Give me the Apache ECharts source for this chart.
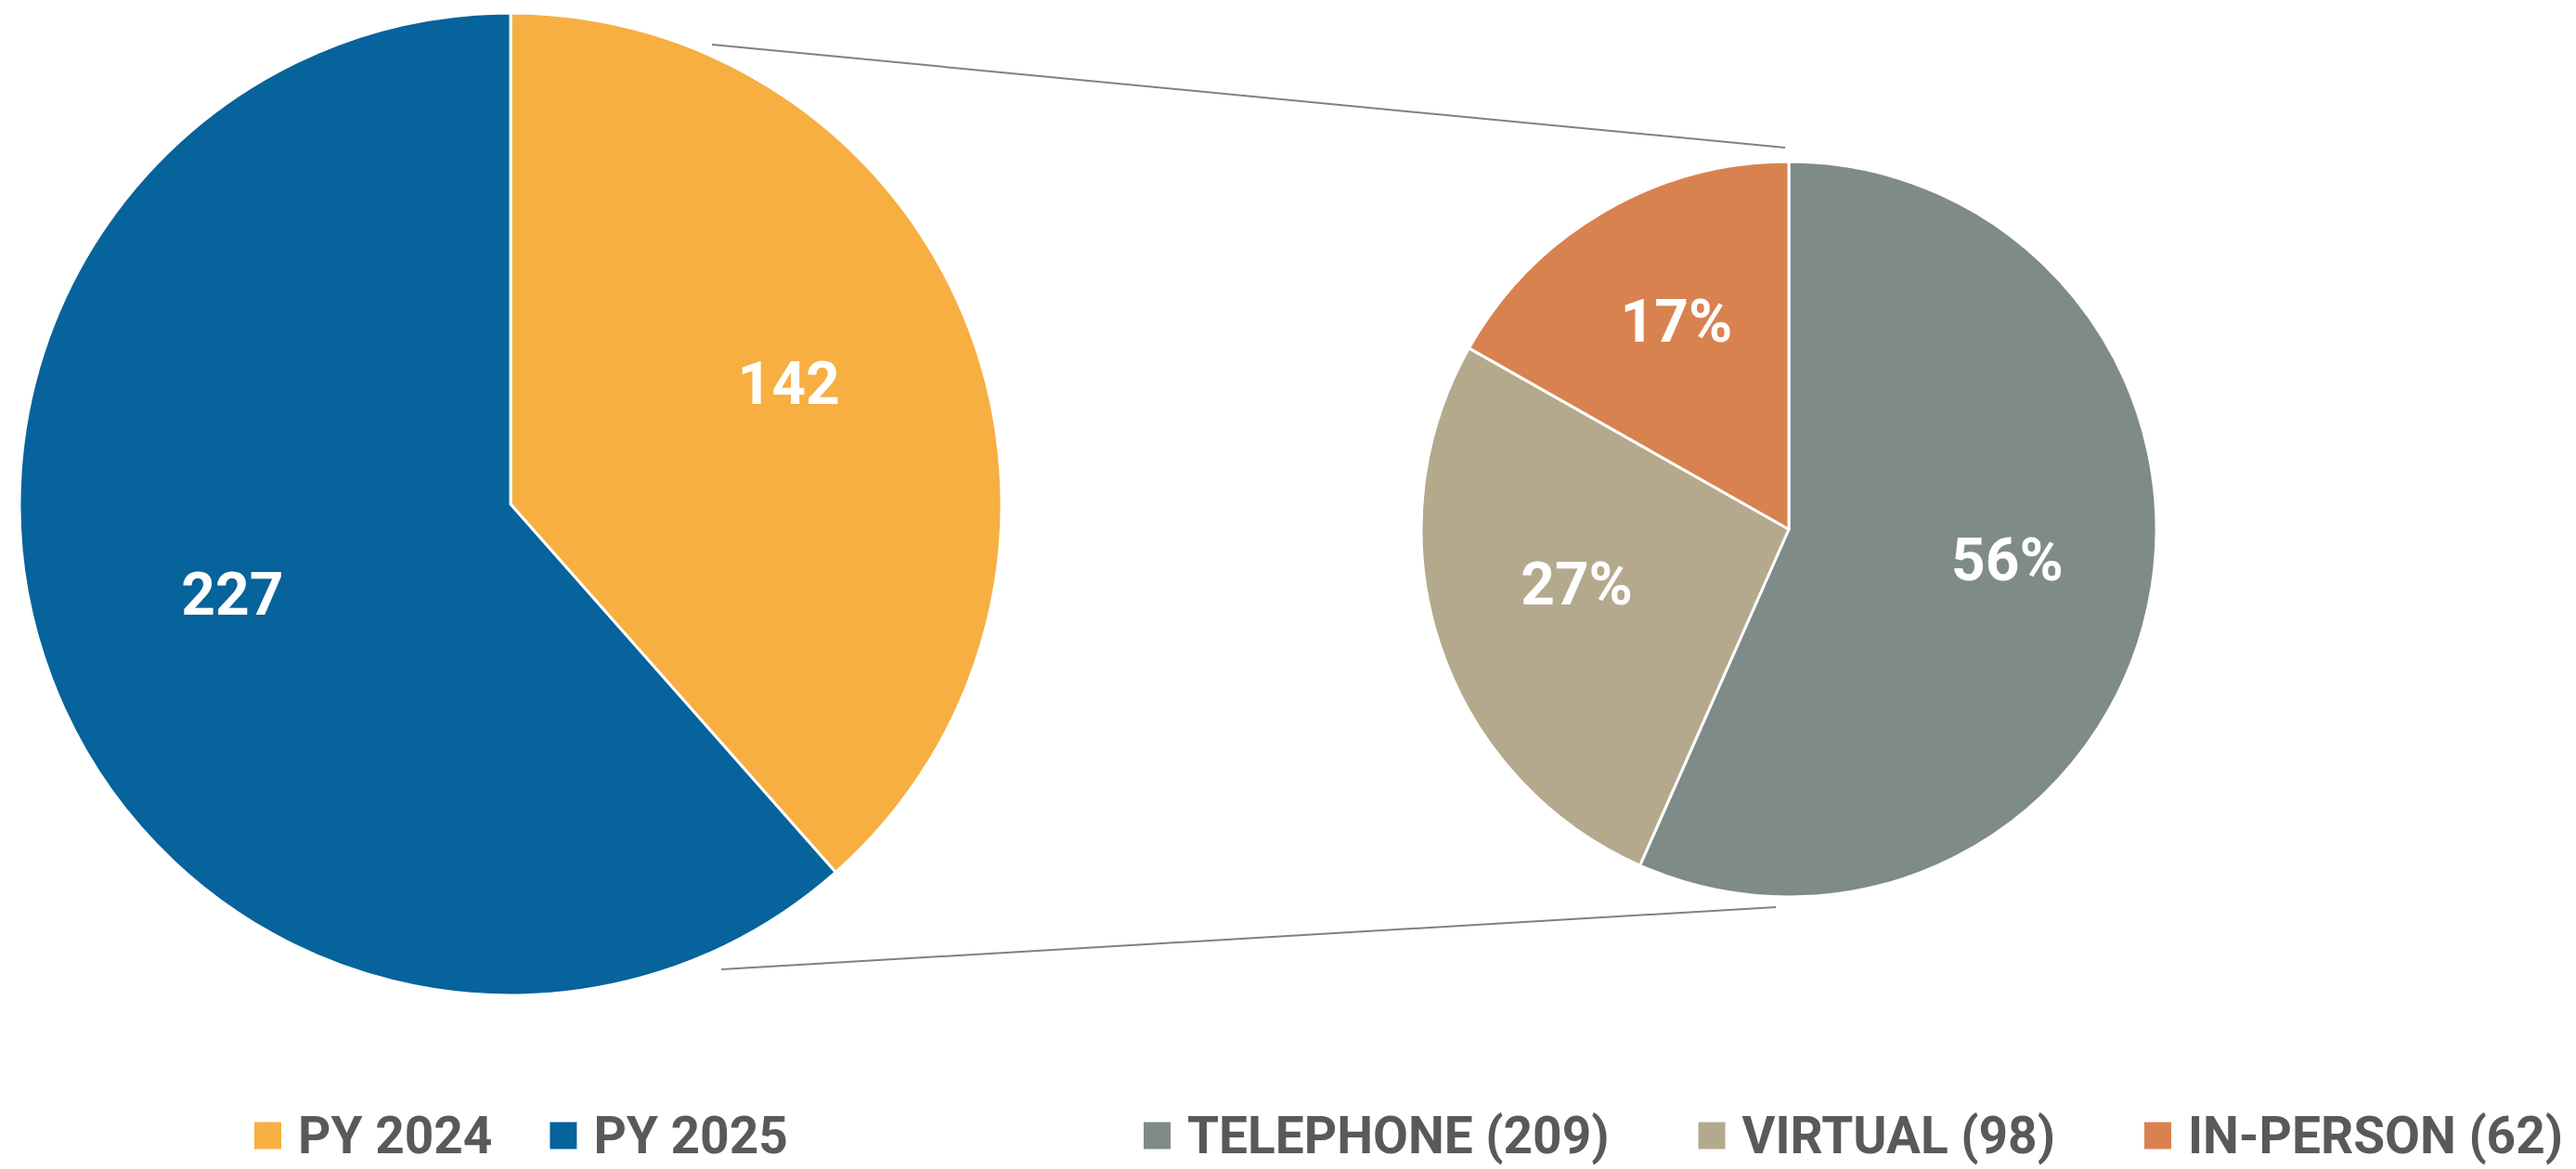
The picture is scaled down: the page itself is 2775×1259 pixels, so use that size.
<!DOCTYPE html>
<html>
<head>
<meta charset="utf-8">
<script src="https://cdn.jsdelivr.net/npm/echarts@6/dist/echarts.min.js"></script>
<style>
  html, body { margin: 0; padding: 0; background: #fff; }
  #chart { width: 2775px; height: 1259px; }
</style>
</head>
<body>
<div id="chart"></div>
<script>
// data
const years = ['PY 2024', 'PY 2025'];
const yearCounts = [142, 227];
const yearColors = ['#F7AF42', '#06639B'];

const modes = ['TELEPHONE', 'VIRTUAL', 'IN-PERSON'];
const modeCounts = [209, 98, 62];
const modeLabels = ['56%', '27%', '17%'];
const modeColors = ['#7F8B89', '#B4A98C', '#D8824F'];

// layout
const leftC = [550, 543], leftR = 529;
const rightC = [1927, 570], rightR = 396;
const FONT = 'Roboto, "Noto Sans", sans-serif';

const chart = echarts.init(document.getElementById('chart'), null, { renderer: 'svg' });

const yearData = years.map((n, i) => ({ name: n, value: yearCounts[i], itemStyle: { color: yearColors[i] } }));
const modeData = modes.map((n, i) => ({ name: n, value: modeCounts[i], itemStyle: { color: modeColors[i] } }));

const labelStyle = {
  show: true,
  position: 'inside',
  color: '#fff',
  fontFamily: FONT,
  fontWeight: 'bold',
  fontSize: 64,
  offset: [0, -16]
};

// lines joining the two pies
function connector(p1, p2) {
  return {
    type: 'line',
    shape: { x1: p1[0], y1: p1[1], x2: p2[0], y2: p2[1] },
    style: { stroke: '#808080', lineWidth: 2 },
    silent: true
  };
}

const legendBase = {
  orient: 'horizontal',
  padding: 0,
  itemWidth: 31,
  itemHeight: 31,
  icon: 'rect',
  selectedMode: false,
  textStyle: {
    color: '#595959',
    fontFamily: FONT,
    fontWeight: 'bold',
    fontSize: 55,
    lineHeight: 60,
    padding: [0, 0, 0, 12]
  }
};

const option = {
  animation: false,
  backgroundColor: '#fff',
  legend: [
    Object.assign({}, legendBase, {
      data: years,
      left: 272,
      top: 1193,
      width: 900,
      itemGap: 60
    }),
    Object.assign({}, legendBase, {
      data: modes,
      left: 1230,
      top: 1193,
      width: 1800,
      itemGap: 94,
      formatter: name => name + ' (' + modeCounts[modes.indexOf(name)] + ')'
    })
  ],
  graphic: [
    connector([767, 48], [1923, 159]),
    connector([777, 1044], [1913, 977])
  ],
  series: [
    {
      type: 'pie',
      center: leftC,
      radius: [0, leftR],
      startAngle: 90,
      data: yearData,
      label: { show: false },
      labelLine: { show: false },
      itemStyle: { borderColor: '#fff', borderWidth: 3 },
      silent: true
    },
    {
      // label layer, pushes labels a bit outward
      type: 'pie',
      center: leftC,
      radius: [leftR * 0.2, leftR],
      startAngle: 90,
      data: yearData.map(d => ({ name: d.name, value: d.value })),
      itemStyle: { color: 'rgba(0,0,0,0)' },
      label: Object.assign({}, labelStyle, { formatter: '{c}' }),
      labelLine: { show: false },
      silent: true
    },
    {
      type: 'pie',
      center: rightC,
      radius: [0, rightR],
      startAngle: 90,
      data: modeData,
      label: { show: false },
      labelLine: { show: false },
      itemStyle: { borderColor: '#fff', borderWidth: 3 },
      silent: true
    },
    {
      type: 'pie',
      center: rightC,
      radius: [rightR * 0.2, rightR],
      startAngle: 90,
      data: modeData.map(d => ({ name: d.name, value: d.value })),
      itemStyle: { color: 'rgba(0,0,0,0)' },
      label: Object.assign({}, labelStyle, {
        formatter: p => modeLabels[p.dataIndex]
      }),
      labelLine: { show: false },
      silent: true
    }
  ]
};

chart.setOption(option);
</script>
</body>
</html>
